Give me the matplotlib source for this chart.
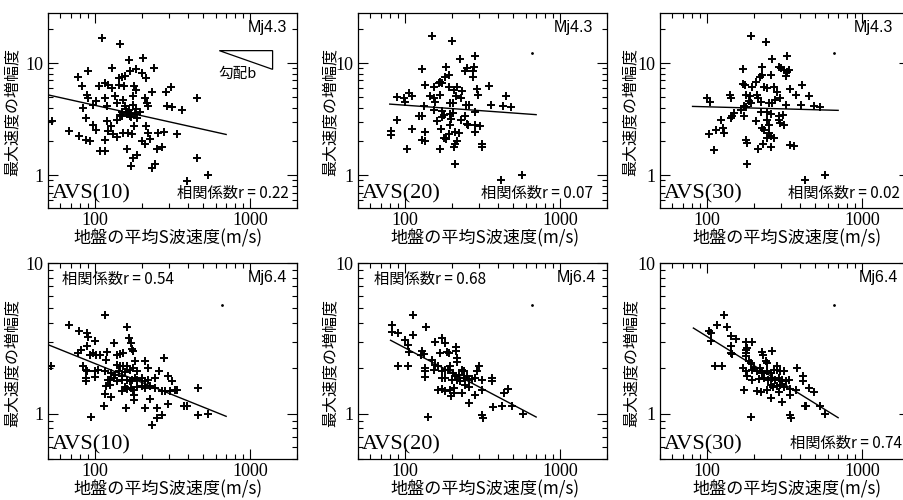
import numpy as np
import matplotlib
matplotlib.use('Agg')
import matplotlib.pyplot as plt
from matplotlib.patches import Polygon

# ---- data (vs [m/s], amplification) ----
# Mj4.3
pts_a10_m43 = [(111.5, 16.8), (145, 14.9), (166, 10.6), (205, 11.2), (240, 9.1), (90, 8.5), (78, 7.5),
               (130, 9.0), (168, 8.55), (184, 8.8), (200, 8.1), (212, 7.4), (156, 7.6), (150, 7.5),
               (143, 7.3), (83, 6.26), (107, 6.3), (116, 6.6), (122, 6.4), (129, 6.05), (143, 6.4),
               (154, 6.26), (179, 6.26), (183, 5.77), (232, 5.57), (287, 5.57), (309, 6.13), (89, 5.2),
               (91, 4.93), (102, 4.55), (97.5, 4.25), (116, 4.87), (119, 4.11), (135, 5.04), (140, 4.4),
               (152, 4.7), (177, 5.04), (210, 4.93), (216, 4.37), (221, 4.11), (175, 4.25), (156, 4.11),
               (149, 3.66), (160, 3.51), (164, 3.66), (145, 3.47), (181, 3.51), (168, 3.35), (84, 3.97),
               (290, 4.16), (312, 4.03), (366, 3.84), (453, 4.93), (53, 3.07), (88, 3.24), (97.5, 2.83),
               (102.5, 2.55), (119, 3.03), (128, 2.73), (122, 2.5), (68, 2.47), (79, 2.26), (88, 2.08),
               (93, 2.01), (116, 2.08), (138, 2.18), (131, 2.31), (152, 2.39), (164, 2.39), (174, 2.31),
               (186, 3.24), (179, 2.73), (215, 2.73), (221, 2.39), (256, 2.39), (280, 2.42), (336, 2.31),
               (200, 2.01), (210, 1.91), (226, 2.11), (108, 1.66), (116, 1.66), (162, 1.73), (250, 1.73),
               (269, 1.78), (177, 1.43), (188, 1.5), (453, 1.43), (171, 1.21), (232, 1.17), (244, 1.25),
               (390, 0.89), (538, 1.0), (165, 3.8), (170, 3.6), (158, 3.9), (172, 3.3), (150, 3.4),
               (185, 3.9), (140, 3.1), (195, 3.7)]
pts_a20_m43 = [(150, 17.5), (201, 15.7), (225, 10.8), (281.6, 11.6), (129, 8.8), (184, 9.28), (277.5, 9.28),
               (273, 8.5), (251, 8.97), (245, 8.5), (274.8, 7.57), (191.7, 7.83), (182.4, 7.57), (135.8, 6.39),
               (153.6, 6.17), (169.5, 6.74), (173.8, 6.6), (165, 6.6), (191.7, 6.17), (216.7, 6.17),
               (206.5, 5.77), (233.4, 5.65), (291.5, 5.89), (296, 5.21), (346.5, 6.3), (449.8, 5.04),
               (89.3, 4.97), (98.5, 4.93), (106, 5.39), (111.4, 5.1), (100, 4.5), (146, 5.1), (153.6, 4.87),
               (157.4, 4.5), (169.5, 5.21), (196.5, 4.4), (203, 4.4), (214, 5.04), (231, 4.87), (132.4, 4.11),
               (153.6, 3.84), (173.8, 3.71), (178, 3.42), (196.5, 3.51), (203, 3.6), (247.7, 4.25),
               (257.6, 4.2), (284.5, 3.66), (360.5, 4.25), (431, 4.11), (484, 4.03), (89.3, 3.13), (123, 3.35),
               (129, 3.35), (160, 3.07), (173.8, 3.28), (199.5, 3.17), (231, 3.13), (242.7, 3.35), (251, 2.86),
               (255, 2.83), (284.5, 2.83), (306, 2.73), (82, 2.5), (82, 2.27), (111.4, 2.59), (135.8, 2.43),
               (172, 2.6), (196.5, 2.83), (191.7, 2.31), (211.5, 2.43), (222, 2.39), (284.5, 2.42), (129, 2.08),
               (135.8, 2.04), (178, 2.15), (185, 2.11), (216.7, 2.01), (209.5, 1.88), (206.5, 1.79),
               (313.8, 1.91), (316, 1.78), (103.5, 1.7), (168, 1.7), (209.5, 1.25), (418, 0.9), (567, 1.0)]
pts_a30_m43 = [(191.4, 17.5), (238.8, 15.5), (261, 10.8), (329, 11.6), (170, 8.8), (227.5, 9.17), (291, 9.28),
               (301, 8.97), (313, 8.67), (326, 8.4), (337, 8.67), (321, 7.73), (219.6, 7.57), (225, 7.8),
               (257, 7.8), (172, 6.48), (176, 6.39), (194, 6.17), (206, 6.74), (233, 6.17), (242.5, 5.97),
               (270, 6.17), (342, 5.85), (410, 6.39), (377.6, 5.21), (453, 5.1), (101, 4.93), (105, 4.46),
               (141, 5.21), (143.5, 4.93), (177.8, 5.21), (189.6, 5.04), (209, 5.21), (214, 4.93), (281, 5.57),
               (295, 4.87), (186.7, 4.55), (191.4, 4.4), (221.8, 4.5), (251, 4.4), (261, 4.4), (276.7, 4.7),
               (321, 4.25), (401, 4.25), (488, 4.11), (538, 4.03), (173.5, 4.11), (177.8, 4.03), (149.6, 3.59),
               (165, 3.84), (173.5, 3.35), (221.8, 3.66), (244.8, 3.66), (257, 3.51), (291, 3.35), (310, 3.42),
               (146, 3.35), (206, 3.03), (244.8, 3.13), (291, 3.13), (298, 2.93), (313, 2.83), (123, 3.13),
               (142.6, 3.24), (127, 2.64), (114, 2.55), (103.5, 2.34), (129, 2.39), (233, 2.55), (251, 2.83),
               (227.5, 2.64), (251, 2.39), (257, 2.23), (270, 2.15), (242.5, 2.15), (177.8, 2.08),
               (182.2, 1.95), (230.8, 1.88), (214, 1.7), (257, 1.78), (344, 1.85), (363, 1.82), (111.4, 1.68),
               (182.2, 1.25), (431, 0.9), (579, 1.0)]

# Mj6.4
pts_a10_m64 = [(116, 4.54), (68, 3.86), (79, 3.52), (89.7, 3.43), (90.6, 3.25), (89.7, 2.82), (100, 3.02),
               (160, 3.74), (166, 3.18), (171, 2.94), (174, 2.7), (177, 2.59), (78, 2.53), (82, 2.66),
               (93, 2.46), (97.5, 2.53), (102.5, 2.46), (107.7, 2.46), (119, 2.55), (133, 2.94), (118, 2.28),
               (138, 2.46), (145, 2.5), (152, 2.53), (138, 2.11), (145, 2.06), (152, 2.06), (162, 2.06),
               (181, 2.23), (210, 2.23), (279, 2.34), (52.6, 2.06), (84, 2.06), (88, 1.96), (89.7, 1.91),
               (100, 1.91), (105, 1.94), (116, 1.91), (128, 1.86), (134.6, 1.81), (143, 1.91), (150, 1.77),
               (156, 1.88), (168, 1.96), (176.7, 2.01), (186, 1.91), (221, 2.01), (258, 1.91), (88, 1.72),
               (88, 1.64), (100, 1.75), (121, 1.68), (125, 1.68), (133, 1.72), (138, 1.64), (149, 1.68),
               (160, 1.68), (168, 1.64), (174, 1.68), (181, 1.72), (188, 1.68), (200, 1.72), (210, 1.64),
               (221, 1.68), (244, 1.72), (296, 1.77), (312, 1.64), (118, 1.52), (125, 1.56), (156, 1.51),
               (162, 1.45), (171, 1.48), (177, 1.44), (186, 1.51), (200, 1.53), (210, 1.48), (226, 1.52),
               (244, 1.48), (269, 1.41), (283, 1.41), (306, 1.41), (327, 1.43), (340, 1.44), (116, 1.36),
               (128, 1.28), (148.6, 1.41), (179, 1.34), (179, 1.24), (226, 1.25), (460, 1.47), (114, 1.12),
               (159, 1.09), (210, 1.09), (250, 1.09), (296, 1.16), (376, 1.12), (390, 1.12), (460, 0.985),
               (538, 1.0), (94, 0.95), (250, 0.94), (269, 0.985), (232, 0.845)]
pts_a20_m64 = [(113, 4.54), (83, 3.9), (83, 3.48), (90.6, 3.43), (137.5, 3.76), (112.6, 3.35), (101, 3.07),
               (105, 2.84), (106, 2.55), (90.5, 2.06), (104.5, 2.07), (129, 2.59), (132.4, 2.5), (128, 2.46),
               (157.4, 3.0), (173.8, 3.18), (182.4, 2.94), (169.5, 2.53), (187, 2.55), (193.5, 2.53),
               (214.7, 2.77), (214.7, 2.59), (216.7, 2.34), (216.7, 2.19), (135.8, 2.01), (135.8, 1.91),
               (134.5, 1.75), (150, 2.28), (157.4, 2.11), (163.5, 2.06), (153.6, 1.96), (173.8, 1.91),
               (182.4, 1.96), (189.8, 1.96), (173.8, 1.72), (182.4, 1.72), (196.5, 2.06), (203, 1.86),
               (211.5, 1.77), (222, 1.81), (233.4, 1.96), (239, 1.91), (201, 1.68), (216.7, 1.68),
               (227.7, 1.64), (239, 1.72), (251, 1.77), (259.5, 1.68), (270.7, 1.7), (284.5, 1.72), (302, 2.06),
               (291.5, 1.91), (313.8, 1.68), (362, 1.72), (362, 1.64), (163.5, 1.43), (173.8, 1.46),
               (182.4, 1.41), (196.5, 1.44), (206.5, 1.48), (199.5, 1.3), (206.5, 1.37), (233.4, 1.37),
               (242.7, 1.56), (257.6, 1.5), (284.5, 1.34), (257.6, 1.18), (316, 1.44), (141, 0.95),
               (316, 0.985), (317, 0.94), (370, 1.11), (422, 1.12), (432, 1.37), (460, 1.46), (488, 1.12),
               (573, 1.0)]
pts_a30_m64 = [(129, 4.54), (117, 3.9), (134, 3.76), (103.5, 3.52), (106, 3.43), (143.5, 3.3), (153.4, 3.14),
               (107, 3.02), (144, 2.82), (142.6, 2.53), (146, 2.49), (177.8, 2.99), (180.4, 2.73), (196, 2.99),
               (177.8, 2.66), (177.8, 2.53), (225.3, 2.55), (230.8, 2.46), (261, 2.59), (177.8, 2.4),
               (186.7, 2.23), (191.4, 2.17), (238.8, 2.23), (244.8, 2.17), (113, 2.06), (126, 2.06),
               (171.8, 2.01), (177.8, 1.91), (194, 1.96), (201, 2.01), (211, 1.91), (219.6, 2.01), (227.5, 1.86),
               (242.5, 1.91), (257, 1.86), (270, 1.96), (281, 2.06), (285, 1.96), (298, 1.91), (313, 1.91),
               (380, 2.02), (180.4, 1.77), (196, 1.68), (216.5, 1.7), (233.2, 1.72), (248.3, 1.68),
               (263.6, 1.72), (276.7, 1.68), (291, 1.72), (305.6, 1.68), (321, 1.64), (337, 1.68), (416, 1.79),
               (418, 1.64), (257, 1.56), (267.5, 1.51), (281, 1.52), (298, 1.56), (313, 1.51), (345, 1.46),
               (377.6, 1.44), (453, 1.48), (488, 1.39), (173.5, 1.44), (211, 1.41), (222, 1.39), (244.8, 1.44),
               (257, 1.27), (291, 1.39), (342, 1.34), (305.6, 1.19), (431, 1.12), (435, 1.13), (533, 1.12),
               (579, 1.0), (191.4, 0.95), (342, 0.985), (350, 0.94)]

# regression lines: (vs ends, amp ends)
line_a10_m43 = ([50, 700], [5.21, 2.31])
line_a20_m43 = ([80, 700], [4.31, 3.47])
line_a30_m43 = ([81, 700], [4.11, 3.79])
line_a10_m64 = ([50, 700], [2.87, 0.96])
line_a20_m64 = ([81, 700], [3.07, 0.95])
line_a30_m64 = ([82, 700], [3.70, 0.94])

r_values = ['0.22', '0.07', '0.02', '0.54', '0.68', '0.74']
avs_names = ['AVS(10)', 'AVS(20)', 'AVS(30)', 'AVS(10)', 'AVS(20)', 'AVS(30)']
mj_names = ['Mj4.3', 'Mj4.3', 'Mj4.3', 'Mj6.4', 'Mj6.4', 'Mj6.4']
dot_m43 = (655, 12.3)
dot_m64 = (655, 5.3)

JP = ['Noto Sans CJK JP', 'DejaVu Sans']
W, H = 904, 500

def px_box(left, top, right, bottom):
    return [left / W, 1 - bottom / H, (right - left) / W, (bottom - top) / H]

panels = [
    # pts, line, axes box (px), ylim, corr text (x, y, ha), Mj x, ylabel x, xlabel x
    (pts_a10_m43, line_a10_m43, px_box(48, 13, 297, 208), (0.51, 28), (0.965, 0.075, 'right'), 0.96, -0.108, 0.48),
    (pts_a20_m43, line_a20_m43, px_box(358, 13, 607, 208), (0.51, 28), (0.945, 0.075, 'right'), 0.945, -0.078, 0.51),
    (pts_a30_m43, line_a30_m43, px_box(660, 13, 909, 208), (0.51, 28), (0.964, 0.075, 'right'), 0.936, -0.084, 0.51),
    (pts_a10_m64, line_a10_m64, px_box(48, 263, 297, 459), (0.5, 10), (0.055, 0.917, 'left'), 0.96, -0.108, 0.48),
    (pts_a20_m64, line_a20_m64, px_box(358, 263, 607, 459), (0.5, 10), (0.064, 0.917, 'left'), 0.955, -0.078, 0.51),
    (pts_a30_m64, line_a30_m64, px_box(660, 263, 909, 459), (0.5, 10), (0.970, 0.080, 'right'), 0.956, -0.080, 0.51),
]

fig = plt.figure(figsize=(9.04, 5.0), dpi=100)

for i, (pts, line, box, ylim, corr, mjx, ylx, xlx) in enumerate(panels):
    ax = fig.add_axes(box)
    vs, amp = np.array(pts).T
    ax.plot(vs, amp, '+', color='k', ms=6, mew=1.4)
    ax.plot(line[0], line[1], '-', color='k', lw=1.0)
    ax.set_xscale('log')
    ax.set_yscale('log')
    ax.set_xlim(50, 2000)
    ax.set_ylim(*ylim)
    ax.set_xticks([100, 1000])
    ax.set_xticklabels(['100', '1000'])
    ax.set_yticks([1, 10])
    ax.set_yticklabels(['1', '10'])
    ax.tick_params(which='both', direction='in', top=True, right=True, width=0.8)
    ax.tick_params(which='major', length=7, pad=3)
    ax.tick_params(which='minor', length=3.5)
    for lab in ax.get_xticklabels() + ax.get_yticklabels():
        lab.set_fontfamily('Liberation Serif')
        lab.set_fontsize(13)
    for sp in ax.spines.values():
        sp.set_linewidth(0.9)

    ax.set_xlabel('地盤の平均S波速度(m/s)', family=JP, fontsize=12.3)
    ax.xaxis.set_label_coords(xlx, -0.11)
    ax.set_ylabel('最大速度の増幅度', family=JP, fontsize=11.5)
    ax.yaxis.set_label_coords(ylx, 0.49)

    ax.text(0.015, 0.07, avs_names[i], transform=ax.transAxes, family='Liberation Serif',
            fontsize=16, ha='left', va='center')
    ax.text(mjx, 0.925, mj_names[i], transform=ax.transAxes, family='Liberation Sans',
            fontsize=11.5, ha='right', va='center')
    ax.text(corr[0], corr[1], '相関係数r = ' + r_values[i], transform=ax.transAxes, family=JP,
            fontsize=11, ha=corr[2], va='center')

    if i == 0:
        # slope legend triangle
        tri = Polygon([(0.688, 0.807), (0.902, 0.807), (0.902, 0.711)], closed=True, fill=False,
                      edgecolor='k', lw=0.9, transform=ax.transAxes)
        ax.add_patch(tri)
        ax.text(0.683, 0.725, '勾配b', transform=ax.transAxes, family=JP, fontsize=10.5,
                ha='left', va='top')
    else:
        d = dot_m43 if i < 3 else dot_m64
        ax.plot([d[0]], [d[1]], 'o', color='k', ms=1)

fig.savefig('out.png', dpi=100)
